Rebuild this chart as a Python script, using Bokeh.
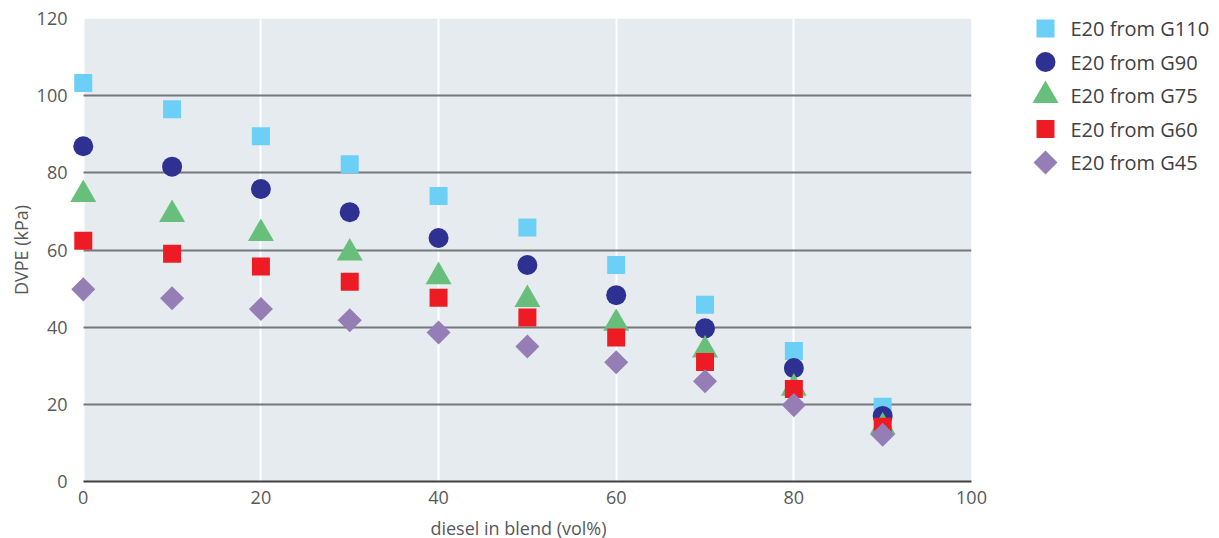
from bokeh.plotting import figure
from bokeh.layouts import row
from bokeh.models import Range1d, BoxAnnotation, FixedTicker
from bokeh.core.properties import value
from bokeh.embed import file_html
from bokeh.resources import INLINE
import math

diesel = [0, 10, 20, 30, 40, 50, 60, 70, 80, 90]
g110 = [103.3, 96.5, 89.5, 82.2, 74.0, 65.8, 56.1, 45.8, 33.8, 19.4]
g90 = [86.9, 81.6, 75.8, 69.8, 63.1, 56.1, 48.3, 39.7, 29.4, 17.0]
g75 = [74.4, 69.2, 64.3, 59.2, 53.1, 47.2, 41.0, 34.1, 24.2, 14.1]
g60 = [62.4, 59.0, 55.7, 51.8, 47.6, 42.5, 37.3, 31.0, 24.0, 14.2]
g45 = [49.8, 47.5, 44.7, 41.8, 38.6, 35.0, 30.9, 26.0, 19.8, 12.1]

series_names = ["E20 from G110", "E20 from G90", "E20 from G75", "E20 from G60", "E20 from G45"]
x_ticks = [0, 20, 40, 60, 80, 100]
y_ticks = [0, 20, 40, 60, 80, 100, 120]

FONT = "Open Sans"
TXT = "#58595b"

# marker styles per series (same in plot and legend)
styles = [
    dict(marker="square", size=18, fill_color="#6bcff6", angle=0),
    dict(marker="circle", size=20, fill_color="#2e3192", angle=0),
    dict(marker="triangle", size=26, fill_color="#68bf7b", angle=0),
    dict(marker="square", size=18, fill_color="#ed1c24", angle=0),
    dict(marker="square", size=17, fill_color="#957db6", angle=math.pi / 4),
]
series_values = [g110, g90, g75, g60, g45]

p = figure(frame_width=906, frame_height=463, output_backend="svg", toolbar_location=None,
           x_range=Range1d(-2, 100), y_range=Range1d(0, 120),
           min_border_left=65, min_border_right=24, min_border_top=18, min_border_bottom=56)
p.outline_line_color = None
p.background_fill_color = "white"

bg = BoxAnnotation(left=0, right=100, bottom=0, top=120, fill_color="#e6ebef", fill_alpha=1,
                   line_color=None, level="image")
p.add_layout(bg)

p.xaxis.ticker = FixedTicker(ticks=x_ticks)
p.yaxis.ticker = FixedTicker(ticks=y_ticks)

p.xgrid.grid_line_color = "white"
p.xgrid.grid_line_width = 2
p.ygrid.grid_line_color = "#77787b"
p.ygrid.grid_line_width = 2
p.ygrid.cross_bounds = (0, 100)

for ax in (p.xaxis, p.yaxis):
    ax.major_tick_line_color = None
    ax.minor_tick_line_color = None
    ax.major_label_text_font = FONT
    ax.major_label_text_font_size = "18px"
    ax.major_label_text_color = TXT
    ax.axis_label_text_font = FONT
    ax.axis_label_text_font_size = "18px"
    ax.axis_label_text_font_style = "normal"
    ax.axis_label_text_color = TXT

p.xaxis.axis_line_color = "#414042"
p.xaxis.axis_line_width = 2
p.xaxis.bounds = (0, 100)
p.xaxis.major_label_standoff = 3
p.xaxis.axis_label = "diesel in blend (vol%)"
p.xaxis.axis_label_standoff = 9

p.yaxis.axis_line_color = None
p.yaxis.major_label_standoff = -8
p.yaxis.axis_label = "DVPE (kPa)"
p.yaxis.axis_label_standoff = 1

for vals, st in zip(series_values, styles):
    p.scatter(diesel, vals, marker=st["marker"], size=st["size"], angle=st["angle"],
              fill_color=st["fill_color"], line_color=None)

# legend as a separate small figure (rows indexed from the top)
LEG_W = 220
PAD_TOP = 0.3
PAD_BOTTOM = 1.372
n = len(series_names)
rows_idx = list(range(n))
leg = figure(frame_width=LEG_W, frame_height=190, output_backend="svg", toolbar_location=None,
             x_range=Range1d(0, LEG_W), y_range=Range1d(n - 1 + PAD_BOTTOM, -PAD_TOP),
             min_border_left=0, min_border_right=0, min_border_top=18, min_border_bottom=0)
leg.axis.visible = False
leg.grid.visible = False
leg.outline_line_color = None
MARK_X = 50
TEXT_X = 75
for i, st in zip(rows_idx, styles):
    leg.scatter([MARK_X], [i], marker=st["marker"], size=st["size"], angle=st["angle"],
                fill_color=st["fill_color"], line_color=None)
leg.text([TEXT_X] * n, rows_idx, text=series_names,
         text_font=value(FONT), text_font_size="20px", text_color="#414042",
         text_baseline="middle", text_align="left")

layout = row(p, leg)
open("out.html", "w").write(file_html(layout, INLINE))
